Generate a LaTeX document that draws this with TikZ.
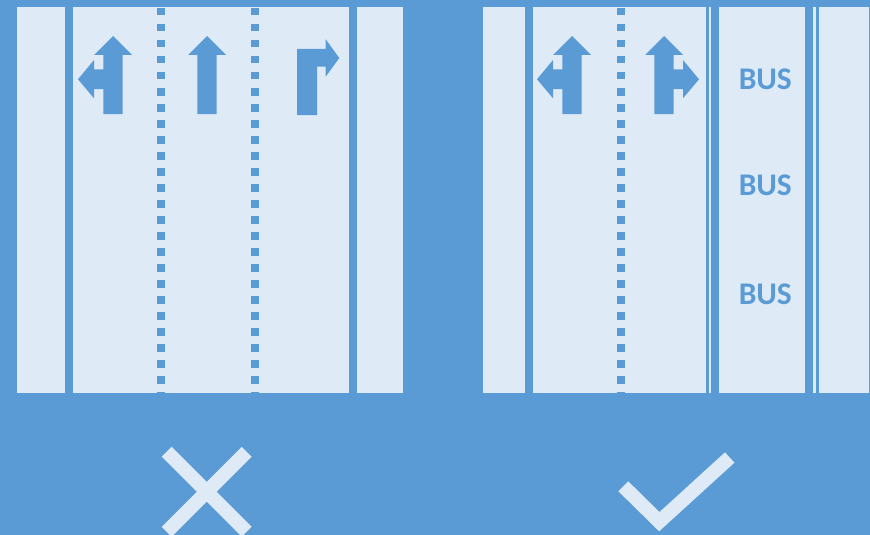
\documentclass[tikz,border=0pt]{standalone}
\usepackage{fontspec}
\setmainfont{Carlito}
\usepackage{tikz}
\definecolor{bleu}{HTML}{5B9BD5}
\definecolor{clair}{HTML}{DEEBF7}

\begin{document}
\begin{tikzpicture}[x=1pt, y=-1pt,
  voie/.style={line width=8pt, bleu},
  pointille/.style={voie, dash pattern=on 7.5pt off 8.5pt},
  filet/.style={line width=3pt, bleu},
  signe/.style={line width=14pt, clair},
  bus/.style={font=\bfseries\fontsize{31.5}{31.5}\selectfont, text=bleu, inner sep=0pt, anchor=base},
  tout droit/.pic={\fill[bleu] (-9.7,114) -- (-9.7,55) -- (-19,55) -- (0,36) -- (19,55)
        -- (9.7,55) -- (9.7,114) -- cycle;},
  gauche droit/.pic={\fill[bleu] (-9.7,114) -- (-9.7,89) -- (-19,89) -- (-19,98.3) -- (-35,79.3)
        -- (-19,60) -- (-19,69.3) -- (-9.7,69.3) -- (-9.7,55) -- (-19,55) -- (0,36) -- (19,55)
        -- (9.7,55) -- (9.7,114) -- cycle;}]
  % fond et chaussees
  \fill[bleu] (0,0) rectangle (870,535);
  \useasboundingbox (0,0) rectangle (870,535);
  \fill[clair] (16.7,6.7) rectangle (403,392.7);
  \fill[clair] (482.7,6.7) rectangle (868.7,392.7);

  % marquages : avant
  \foreach \x in {69, 353}
    \draw[voie] (\x,6.7) -- (\x,392.7);
  \foreach \x in {160.5, 254.5}
    \draw[pointille] (\x,8) -- (\x,392.7);
  \pic at (113,0) {gauche droit};
  \pic at (207,0) {tout droit};
  \fill[bleu] (297,115) -- (297,49) -- (325.7,49) -- (325.7,39.3) -- (339.3,58) -- (325.7,76.7)
        -- (325.7,66.7) -- (317,66.7) -- (317,115) -- cycle;

  % marquages : apres, avec couloir bus
  \draw[voie] (529,6.7) -- (529,392.7);
  \draw[pointille] (621,8) -- (621,392.7);
  \foreach \x/\y in {715.2/707.2, 809.2/817.2} {
    \draw[voie] (\x,6.7) -- (\x,392.7);
    \draw[filet] (\y,6.7) -- (\y,392.7);
  }
  \pic at (572,0) {gauche droit};
  \pic[xscale=-1] at (664,0) {gauche droit};
  \foreach \i/\y in {1/89, 2/195.5, 3/304}
    \node[bus] (bus\i) at (765.3,\y) {BUS};

  % croix et coche
  \draw[signe] (166.7,451.7) -- (246.7,531.7);
  \draw[signe] (246.7,451.7) -- (166.7,531.7);
  \draw[signe] (623.3,486.3) -- (659.3,521.7) -- (729.7,457.5);
\end{tikzpicture}
\end{document}
